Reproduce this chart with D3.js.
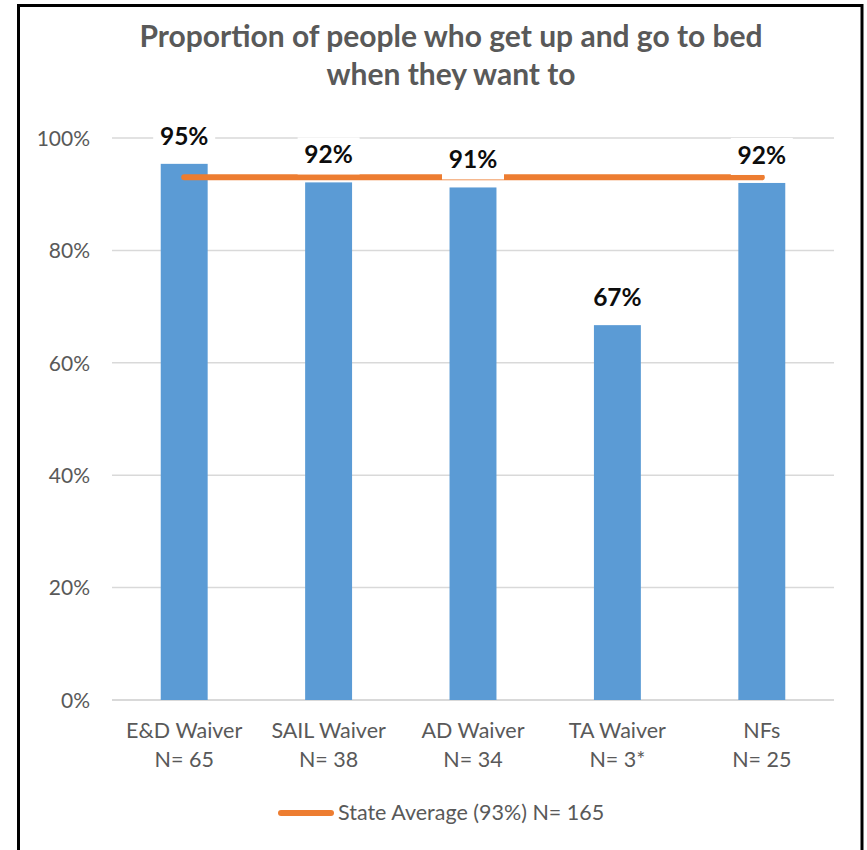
<!DOCTYPE html>
<html>
<head>
<meta charset="utf-8">
<script src="https://cdn.jsdelivr.net/npm/d3@7/dist/d3.min.js"></script>
<style>
  html, body { margin: 0; padding: 0; background: #fff; }
  svg { display: block; }
  text { font-family: Lato, "Open Sans", sans-serif; }
</style>
</head>
<body>
<svg id="chart" width="867" height="850"></svg>
<script>
// Programs and their respondent counts
const programs = ["E&D Waiver", "SAIL Waiver", "AD Waiver", "TA Waiver", "NFs"];
const counts = ["N= 65", "N= 38", "N= 34", "N= 3*", "N= 25"];
// Share of respondents who get up and go to bed when they want to
const shares = [0.954, 0.921, 0.912, 0.667, 0.920];
// Statewide average across all respondents
const stateAverage = 0.93;
const stateLabel = "State Average (93%) N= 165";
const yTicks = [0, 0.2, 0.4, 0.6, 0.8, 1.0];
const titleLines = ["Proportion of people who get up and go to bed", "when they want to"];

const svg = d3.select("#chart");
const plot = { left: 112, right: 834, top: 138, bottom: 700 };

const gray = "#595959";
const blue = "#5B9BD5";
const orange = "#ED7D31";

// frame around the chart
svg.append("rect")
  .attr("x", 18.5).attr("y", 5.5)
  .attr("width", 862 - 18.5).attr("height", 860)
  .attr("fill", "#fff").attr("stroke", "#000").attr("stroke-width", 3);

const x = d3.scaleBand().domain(programs).range([plot.left, plot.right]).paddingInner(0.675).paddingOuter(0.3375);
const y = d3.scaleLinear().domain([0, 1]).range([plot.bottom, plot.top]);

// title
const title = svg.append("text")
  .attr("text-anchor", "middle")
  .attr("fill", gray)
  .attr("font-weight", "bold")
  .attr("font-size", 30);
title.selectAll("tspan").data(titleLines).join("tspan")
  .attr("x", 451)
  .attr("y", (d, i) => 47 + i * 38)
  .text(d => d);

// gridlines
svg.append("g")
  .selectAll("line").data(yTicks).join("line")
  .attr("x1", plot.left).attr("x2", plot.right)
  .attr("y1", d => y(d)).attr("y2", d => y(d))
  .attr("stroke", "#d9d9d9")
  .attr("stroke-width", d => d === 0 ? 2 : 1.5);

// y axis labels
const yAxis = d3.axisLeft(y).tickValues(yTicks).tickFormat(d3.format(".0%")).tickSize(0).tickPadding(0);
const yg = svg.append("g").attr("transform", `translate(90,0)`).call(yAxis);
yg.select(".domain").remove();
yg.selectAll("text")
  .attr("fill", gray)
  .attr("font-size", 21)
  .attr("font-family", "Lato, 'Open Sans', sans-serif")
  .attr("dy", "0.35em");

// bars
svg.append("g")
  .selectAll("rect").data(programs).join("rect")
  .attr("x", d => x(d))
  .attr("width", x.bandwidth())
  .attr("y", (d, i) => y(shares[i]))
  .attr("height", (d, i) => y(0) - y(shares[i]))
  .attr("fill", blue);

// state average line
svg.append("line")
  .attr("x1", x(programs[0]) + x.bandwidth() / 2)
  .attr("x2", x(programs[programs.length - 1]) + x.bandwidth() / 2)
  .attr("y1", y(stateAverage)).attr("y2", y(stateAverage))
  .attr("stroke", orange).attr("stroke-width", 6)
  .attr("stroke-linecap", "round");

// value labels with white backing boxes
const fmt = d3.format(".0%");
const labels = svg.append("g")
  .selectAll("g").data(programs).join("g")
  .attr("transform", (d, i) => `translate(${x(d) + x.bandwidth() / 2},${y(shares[i]) - 19})`);
labels.append("rect")
  .attr("x", -31).attr("y", -26)
  .attr("width", 62).attr("height", 37)
  .attr("fill", "#fff");
labels.append("text")
  .attr("text-anchor", "middle")
  .attr("font-weight", "bold")
  .attr("font-size", 24.5)
  .attr("fill", "#0d0d0d")
  .text((d, i) => fmt(shares[i]));

// category labels
const xg = svg.append("g");
programs.forEach((p, i) => {
  const cx = x(p) + x.bandwidth() / 2;
  const t = xg.append("text").attr("text-anchor", "middle").attr("fill", gray).attr("font-size", 21.5);
  t.append("tspan").attr("x", cx).attr("y", 738).text(p);
  t.append("tspan").attr("x", cx).attr("y", 767).text(counts[i]);
});

// legend
svg.append("line")
  .attr("x1", 281).attr("x2", 331)
  .attr("y1", 813).attr("y2", 813)
  .attr("stroke", orange).attr("stroke-width", 6)
  .attr("stroke-linecap", "round");
svg.append("text")
  .attr("x", 338).attr("y", 820)
  .attr("fill", gray).attr("font-size", 21.5)
  .text(stateLabel);
</script>
</body>
</html>
